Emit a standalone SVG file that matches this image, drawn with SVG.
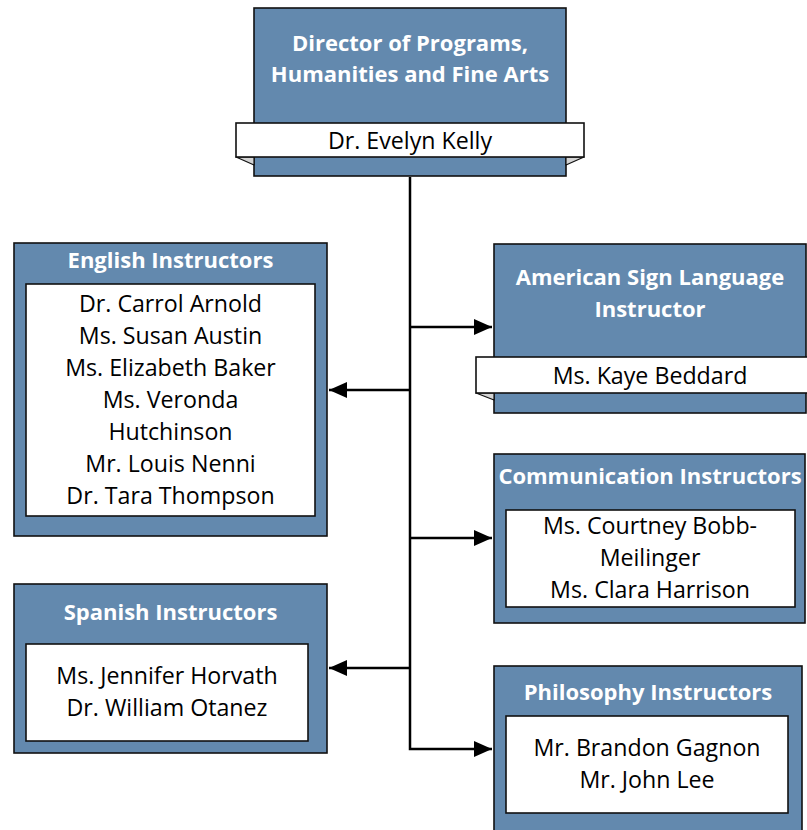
<svg xmlns="http://www.w3.org/2000/svg" width="807" height="830" viewBox="0 0 807 830">
<defs>
<style>
.box{fill:#6389ae;stroke:#111;stroke-width:1.6}
.inner{fill:#fff;stroke:#111;stroke-width:1.6}
.fold{fill:#d4d4d4;stroke:#111;stroke-width:1.2;stroke-linejoin:round}
.t{font-family:"Open Sans","Noto Sans",sans-serif;font-weight:bold;font-size:22px;fill:#fff;text-anchor:middle}
.n{font-family:"Open Sans","Noto Sans",sans-serif;font-size:23.2px;fill:#000;text-anchor:middle}
.c{fill:none;stroke:#000;stroke-width:2.5}
</style>
<marker id="ah" markerUnits="userSpaceOnUse" markerWidth="20" markerHeight="18" refX="18" refY="9" orient="auto">
<path d="M0,1 L18,9 L0,17 Z" fill="#000"/>
</marker>
</defs>
<rect width="807" height="830" fill="#fff"/>
<g id="connectors">
<path class="c" d="M410,177 V749 H492" marker-end="url(#ah)"/>
<path class="c" d="M410,327 H492" marker-end="url(#ah)"/>
<path class="c" d="M410,538 H492" marker-end="url(#ah)"/>
<path class="c" d="M410,390 H329" marker-end="url(#ah)"/>
<path class="c" d="M410,668 H329" marker-end="url(#ah)"/>
</g>
<g id="director">
<rect class="box" x="254" y="8" width="312" height="168"/>
<path class="fold" d="M236,157 L254,165 L254,157 Z"/>
<path class="fold" d="M584,157 L566,165 L566,157 Z"/>
<rect class="inner" x="236" y="123" width="348" height="34"/>
<text class="t" x="410" y="51">Director of Programs,</text>
<text class="t" x="410" y="82">Humanities and Fine Arts</text>
<text class="n" x="410" y="149">Dr. Evelyn Kelly</text>
</g>
<g id="english">
<rect class="box" x="14" y="243" width="313" height="293"/>
<rect class="inner" x="26" y="284" width="289" height="232"/>
<text class="t" x="170.5" y="268">English Instructors</text>
<text class="n" x="170.5" y="312">Dr. Carrol Arnold</text>
<text class="n" x="170.5" y="344">Ms. Susan Austin</text>
<text class="n" x="170.5" y="376">Ms. Elizabeth Baker</text>
<text class="n" x="170.5" y="408">Ms. Veronda</text>
<text class="n" x="170.5" y="440">Hutchinson</text>
<text class="n" x="170.5" y="472">Mr. Louis Nenni</text>
<text class="n" x="170.5" y="504">Dr. Tara Thompson</text>
</g>
<g id="asl">
<rect class="box" x="494" y="244" width="312" height="169"/>
<path class="fold" d="M476,393 L494,400 L494,393 Z"/>
<rect class="inner" x="476" y="357" width="350" height="36"/>
<text class="t" x="650" y="285">American Sign Language</text>
<text class="t" x="650" y="317">Instructor</text>
<text class="n" x="650" y="384">Ms. Kaye Beddard</text>
</g>
<g id="communication">
<rect class="box" x="494" y="454" width="311" height="169"/>
<rect class="inner" x="506" y="510" width="289" height="97"/>
<text class="t" x="650" y="484">Communication Instructors</text>
<text class="n" x="650" y="534">Ms. Courtney Bobb-</text>
<text class="n" x="650" y="566">Meilinger</text>
<text class="n" x="650" y="598">Ms. Clara Harrison</text>
</g>
<g id="spanish">
<rect class="box" x="14" y="584" width="313" height="169"/>
<rect class="inner" x="26" y="644" width="282" height="97"/>
<text class="t" x="170.5" y="620">Spanish Instructors</text>
<text class="n" x="167" y="684">Ms. Jennifer Horvath</text>
<text class="n" x="167" y="716">Dr. William Otanez</text>
</g>
<g id="philosophy">
<rect class="box" x="494" y="666" width="308" height="180"/>
<rect class="inner" x="506" y="716" width="282" height="97"/>
<text class="t" x="648" y="700">Philosophy Instructors</text>
<text class="n" x="647" y="756">Mr. Brandon Gagnon</text>
<text class="n" x="647" y="788">Mr. John Lee</text>
</g>
</svg>
